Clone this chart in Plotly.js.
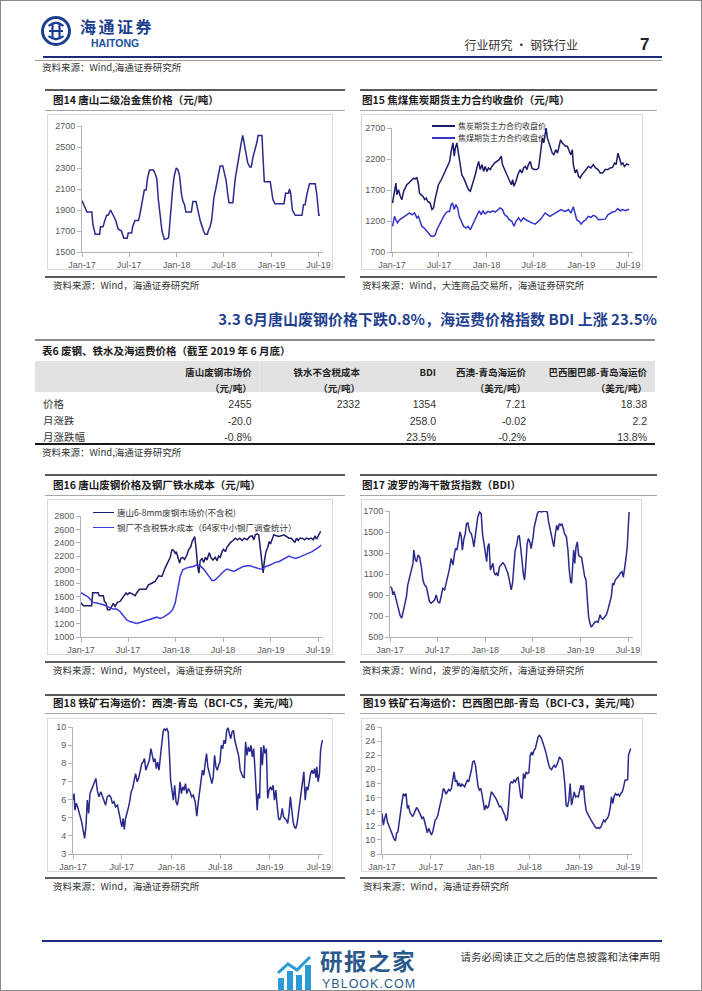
<!DOCTYPE html>
<html lang="zh-CN">
<head>
<meta charset="utf-8">
<title>行业研究 · 钢铁行业</title>
<script src="https://cdn.plot.ly/plotly-3.0.1.min.js"></script>
<style>
html,body{margin:0;padding:0;background:#fff;}
#page{position:relative;width:702px;height:991px;overflow:hidden;background:#fff;font-family:"Noto Sans CJK SC","Liberation Sans",sans-serif;color:#222;}
#pageframe{position:absolute;left:0;top:0;width:700px;height:989px;border:1px solid #8a8a8a;pointer-events:none;z-index:20;}
.t{position:absolute;white-space:nowrap;line-height:1;}
.ln{position:absolute;}
.frame{position:absolute;box-sizing:border-box;border:1px solid #d9d9d9;}
.plot{position:absolute;}
</style>
</head>
<body>
<div id="page">
  <div id="pageframe"></div>
  <svg style="position:absolute;left:40px;top:15px" width="32" height="32" viewBox="0 0 32 32">
    <circle cx="16" cy="16" r="13.5" fill="none" stroke="#1d3f8f" stroke-width="3"/>
    <path d="M8.5 11 Q16 4.5 23.5 11 M8.5 21 Q16 27.5 23.5 21 M9 16 H23 M12.5 9.5 V22.5 M19.5 9.5 V22.5" stroke="#1d3f8f" stroke-width="2.2" fill="none"/>
  </svg>
  <svg style="position:absolute;left:276px;top:954px" width="38" height="36" viewBox="0 0 38 36">
    <rect x="2" y="24" width="6" height="12" fill="#2b9ad6"/>
    <rect x="11" y="17" width="6" height="19" fill="#2b9ad6"/>
    <rect x="20" y="21" width="6" height="15" fill="#2b9ad6"/>
    <rect x="29" y="11" width="6" height="25" fill="#2b9ad6"/>
    <polyline points="2,19 12,10 21,16 34,3" stroke="#2b9ad6" stroke-width="3" fill="none"/>
  </svg>
</div>
<script>
// ---------------- DATA ----------------
// 图14 唐山二级冶金焦价格（元/吨）
const cokeTsDates = ['2017-01-01','2017-01-20','2017-02-08','2017-02-12','2017-02-21','2017-03-10','2017-03-13','2017-03-23','2017-03-30','2017-04-06',
'2017-04-12','2017-04-21','2017-05-01','2017-05-11','2017-05-20','2017-06-02','2017-06-11','2017-06-24','2017-06-28','2017-07-11',
'2017-07-15','2017-07-24','2017-08-06','2017-08-10','2017-08-15','2017-08-23','2017-08-29','2017-09-05','2017-09-10','2017-09-18',
'2017-10-03','2017-10-09','2017-10-16','2017-10-22','2017-10-29','2017-11-05','2017-11-14','2017-11-28','2017-12-01','2017-12-04',
'2017-12-09','2017-12-16','2017-12-22','2017-12-30','2018-01-06','2018-01-12','2018-01-19','2018-01-25','2018-01-31','2018-02-05',
'2018-02-26','2018-03-01','2018-03-04','2018-03-16','2018-03-18','2018-03-25','2018-04-01','2018-04-07','2018-04-14','2018-04-20',
'2018-04-29','2018-05-02','2018-05-09','2018-05-15','2018-05-19','2018-05-24','2018-05-31','2018-06-08','2018-06-17','2018-06-27',
'2018-07-03','2018-07-10','2018-07-16','2018-07-21','2018-08-05','2018-08-08','2018-08-14','2018-08-21','2018-08-27','2018-09-03',
'2018-09-07','2018-09-12','2018-09-20','2018-09-26','2018-10-01','2018-10-09','2018-10-15','2018-10-21','2018-10-27','2018-10-31',
'2018-11-06','2018-11-10','2018-11-25','2018-11-29','2018-12-04','2018-12-27','2019-01-01','2019-01-06','2019-01-14','2019-02-18',
'2019-02-24','2019-03-07','2019-03-11','2019-03-16','2019-03-22','2019-04-02','2019-04-28','2019-05-04','2019-05-10','2019-05-17',
'2019-05-27','2019-06-18','2019-06-24','2019-06-29','2019-07-02','2019-07-06'];
const cokeTsPrice = [1990,1880,1880,1760,1670,1670,1740,1740,1800,1850,
1850,1900,1850,1800,1720,1700,1630,1630,1680,1680,
1740,1800,1800,1830,1900,1990,2090,2090,2200,2280,
2280,2250,2200,2000,1850,1700,1620,1630,1650,1750,
1900,2100,2220,2300,2280,2220,2050,1980,1950,1880,
1880,1920,1980,1980,1950,1880,1800,1750,1700,1670,
1670,1700,1740,1800,1900,2020,2100,2220,2320,2320,
2250,2180,2050,1970,1970,2050,2200,2300,2400,2500,
2550,2610,2500,2400,2350,2310,2310,2400,2450,2500,
2550,2610,2610,2400,2170,2170,2060,2000,1960,1960,
2060,2060,2100,2050,1900,1850,1850,1950,1950,2050,
2150,2150,2050,1950,1850,1850];

// 图15 焦炭期货主力合约收盘价（元/吨）
const futCokeDates = ['2017-01-03','2017-01-11','2017-01-16','2017-01-20','2017-01-26','2017-02-02','2017-02-08','2017-02-15','2017-02-21','2017-02-27',
'2017-03-06','2017-03-12','2017-03-19','2017-03-25','2017-04-01','2017-04-07','2017-04-13','2017-04-17','2017-04-22','2017-04-30',
'2017-05-07','2017-05-13','2017-05-19','2017-05-28','2017-06-04','2017-06-10','2017-06-17','2017-06-23','2017-06-29','2017-07-10',
'2017-07-19','2017-07-28','2017-08-04','2017-08-11','2017-08-17','2017-08-24','2017-08-29','2017-09-02','2017-09-08','2017-09-15',
'2017-09-21','2017-09-27','2017-10-04','2017-10-10','2017-10-17','2017-10-23','2017-10-30','2017-11-05','2017-11-11','2017-11-18',
'2017-11-24','2017-12-01','2017-12-07','2017-12-14','2017-12-20','2017-12-26','2018-01-02','2018-01-08','2018-01-15','2018-01-21',
'2018-01-31','2018-02-09','2018-02-18','2018-02-26','2018-03-03','2018-03-11','2018-03-17','2018-03-24','2018-03-30','2018-04-06',
'2018-04-11','2018-04-16','2018-04-24','2018-05-01','2018-05-10','2018-05-17','2018-05-23','2018-05-30','2018-06-05','2018-06-11',
'2018-06-18','2018-06-24','2018-07-03','2018-07-13','2018-07-20','2018-07-24','2018-07-29','2018-08-04','2018-08-09','2018-08-14',
'2018-08-18','2018-08-23','2018-08-30','2018-09-05','2018-09-11','2018-09-17','2018-09-24','2018-10-01','2018-10-07','2018-10-13',
'2018-10-19','2018-10-26','2018-11-01','2018-11-08','2018-11-14','2018-11-21','2018-11-27','2018-12-01','2018-12-08','2018-12-14',
'2018-12-21','2018-12-27','2019-01-03','2019-01-09','2019-01-18','2019-01-28','2019-02-07','2019-02-16','2019-02-25','2019-03-06',
'2019-03-15','2019-03-24','2019-04-03','2019-04-13','2019-04-22','2019-05-01','2019-05-09','2019-05-15','2019-05-22','2019-05-28',
'2019-06-04','2019-06-10','2019-06-16','2019-06-25','2019-07-04'];
const futCokePrice = [1490,1730,1810,1625,1705,1600,1545,1680,1730,1785,
1810,1840,1875,1890,1880,1905,1785,1650,1625,1600,
1545,1570,1515,1490,1385,1410,1570,1680,1785,1865,
1945,2030,2110,2160,2325,2460,2245,2375,2460,2245,
2055,1945,1895,1840,1785,1705,1680,1760,1840,1945,
2055,2160,2030,2110,2000,2080,2000,2055,2030,2080,
2135,2160,2190,2245,2110,2030,1975,1920,1840,1785,
1865,1760,1840,1945,2030,1975,2055,2080,2030,2110,
2160,2055,2030,2030,2055,2190,2375,2540,2460,2590,
2700,2540,2460,2375,2295,2270,2350,2295,2405,2510,
2460,2430,2405,2405,2350,2270,2350,2110,1975,2030,
1920,1895,1945,1975,2030,2080,2055,2110,2055,2030,
1975,1975,2030,2030,2055,2065,2135,2110,2295,2190,
2110,2135,2080,2120,2100];

// 图15 焦煤期货主力合约收盘价（元/吨）
const futCoalDates = ['2017-01-03','2017-01-11','2017-01-16','2017-01-22','2017-01-30','2017-02-08','2017-02-18','2017-02-27','2017-03-10','2017-03-19',
'2017-03-29','2017-04-07','2017-04-13','2017-04-20','2017-04-26','2017-05-05','2017-05-15','2017-05-24','2017-06-01','2017-06-10',
'2017-06-17','2017-06-23','2017-06-29','2017-07-10','2017-07-19','2017-07-28','2017-08-04','2017-08-11','2017-08-17','2017-08-22',
'2017-08-29','2017-09-04','2017-09-11','2017-09-17','2017-09-25','2017-10-04','2017-10-13','2017-10-21','2017-10-30','2017-11-08',
'2017-11-15','2017-11-24','2017-12-03','2017-12-11','2017-12-17','2017-12-26','2018-01-06','2018-01-15','2018-01-24','2018-02-03',
'2018-02-13','2018-02-22','2018-03-03','2018-03-11','2018-03-20','2018-03-29','2018-04-08','2018-04-16','2018-04-24','2018-05-04',
'2018-05-13','2018-05-23','2018-06-01','2018-06-11','2018-06-24','2018-07-07','2018-07-17','2018-07-26','2018-08-05','2018-08-14',
'2018-08-24','2018-09-02','2018-09-11','2018-09-21','2018-10-04','2018-10-14','2018-10-23','2018-11-01','2018-11-12','2018-11-22',
'2018-12-01','2018-12-08','2018-12-14','2018-12-23','2018-12-31','2019-01-09','2019-01-18','2019-01-28','2019-02-07','2019-02-16',
'2019-02-25','2019-03-08','2019-03-21','2019-04-03','2019-04-13','2019-04-22','2019-05-01','2019-05-12','2019-05-21','2019-05-31',
'2019-06-09','2019-06-19','2019-06-29','2019-07-04'];
const futCoalPrice = [1115,1275,1220,1170,1220,1250,1275,1300,1330,1300,
1330,1250,1275,1170,1115,1085,1035,1005,955,955,
980,1060,1115,1195,1275,1330,1355,1355,1465,1490,
1385,1465,1410,1275,1195,1115,1085,1115,1060,1140,
1220,1300,1365,1300,1365,1315,1355,1340,1365,1345,
1385,1410,1385,1300,1275,1220,1195,1115,1195,1250,
1195,1250,1220,1195,1170,1150,1185,1220,1275,1330,
1300,1275,1300,1330,1355,1385,1365,1355,1385,1330,
1430,1330,1220,1195,1150,1195,1220,1275,1260,1290,
1275,1220,1220,1230,1300,1330,1345,1355,1400,1365,
1385,1365,1385,1380];

// 图16 唐山6-8mm废钢市场价(不含税)（元/吨）
const scrapDates = ['2017-01-01','2017-01-07','2017-01-10','2017-02-11','2017-02-15','2017-03-08','2017-03-12','2017-03-28','2017-04-01','2017-04-07',
'2017-04-13','2017-04-22','2017-04-29','2017-05-05','2017-05-12','2017-05-21','2017-05-31','2017-06-10','2017-06-23','2017-06-29',
'2017-07-06','2017-07-15','2017-07-28','2017-08-03','2017-08-13','2017-09-08','2017-09-17','2017-09-30','2017-10-13','2017-10-26',
'2017-11-08','2017-11-20','2017-12-03','2017-12-10','2017-12-16','2017-12-22','2017-12-29','2018-01-02','2018-01-07','2018-01-15',
'2018-01-20','2018-01-27','2018-02-03','2018-02-12','2018-02-18','2018-02-27','2018-03-04','2018-03-09','2018-03-14','2018-03-20',
'2018-03-25','2018-03-30','2018-04-04','2018-04-11','2018-04-17','2018-04-24','2018-04-30','2018-05-09','2018-05-15','2018-05-23',
'2018-06-01','2018-06-08','2018-06-14','2018-06-20','2018-06-27','2018-07-03','2018-07-10','2018-07-16','2018-07-23','2018-07-29',
'2018-08-08','2018-08-17','2018-08-26','2018-09-03','2018-09-12','2018-09-21','2018-10-01','2018-10-12','2018-10-21','2018-10-27',
'2018-11-02','2018-11-09','2018-11-15','2018-11-22','2018-11-28','2018-12-02','2018-12-07','2018-12-13','2018-12-20','2018-12-25',
'2018-12-30','2019-01-06','2019-01-12','2019-01-22','2019-01-31','2019-02-09','2019-02-19','2019-03-02','2019-03-11','2019-03-20',
'2019-03-28','2019-04-03','2019-04-09','2019-04-16','2019-04-22','2019-05-01','2019-05-10','2019-05-18','2019-05-27','2019-06-05',
'2019-06-13','2019-06-19','2019-06-25','2019-07-04','2019-07-11'];
const scrapPrice = [1510,1480,1465,1465,1660,1660,1615,1615,1530,1505,
1405,1405,1455,1500,1455,1515,1530,1580,1655,1630,
1660,1645,1615,1655,1710,1710,1775,1800,1825,1910,
1900,2025,2145,2185,2295,2295,2245,2270,2205,2100,
2170,2185,2155,2220,2295,2345,2420,2470,2495,2295,
2050,1950,2135,2170,2110,2185,2145,2255,2185,2145,
2185,2135,2205,2185,2270,2305,2270,2335,2370,2405,
2435,2470,2445,2470,2435,2470,2445,2495,2505,2445,
2520,2535,2520,2295,2100,1955,2135,2270,2335,2420,
2385,2470,2520,2505,2495,2505,2520,2495,2470,2470,
2435,2405,2470,2435,2470,2470,2445,2470,2455,2470,
2445,2505,2455,2520,2570];

// 图16 钢厂不含税铁水成本（64家中小钢厂调查统计）（元/吨）
const ironDates = ['2017-01-01','2017-01-16','2017-01-29','2017-02-07','2017-02-15','2017-03-02','2017-03-15','2017-03-28','2017-04-10','2017-04-22',
'2017-05-05','2017-05-18','2017-05-31','2017-06-13','2017-06-26','2017-07-08','2017-07-21','2017-08-03','2017-08-16','2017-08-29',
'2017-09-11','2017-09-24','2017-10-06','2017-10-19','2017-11-01','2017-11-14','2017-11-27','2017-12-10','2017-12-20','2017-12-29',
'2018-01-04','2018-01-11','2018-01-17','2018-01-27','2018-02-09','2018-02-25','2018-03-09','2018-03-22','2018-04-04','2018-04-17',
'2018-04-30','2018-05-10','2018-05-19','2018-05-28','2018-06-08','2018-06-20','2018-07-03','2018-07-16','2018-07-29','2018-08-11',
'2018-08-23','2018-09-05','2018-09-17','2018-10-01','2018-10-13','2018-10-27','2018-11-09','2018-11-22','2018-12-02','2018-12-11',
'2018-12-23','2019-01-06','2019-01-18','2019-01-31','2019-02-13','2019-02-26','2019-03-11','2019-03-24','2019-04-05','2019-04-18',
'2019-05-01','2019-05-13','2019-05-27','2019-06-08','2019-06-21','2019-07-04','2019-07-13'];
const ironCost = [1660,1630,1595,1555,1515,1505,1495,1480,1455,1430,
1415,1415,1380,1315,1255,1230,1215,1200,1215,1230,
1255,1265,1280,1295,1275,1295,1330,1365,1415,1505,
1630,1775,1900,2000,2025,2040,2050,2075,2060,2010,
1950,1890,1840,1840,1875,1925,1975,2010,1990,1975,
2000,2025,2050,2060,2060,2040,2020,2010,2010,2050,
2060,2085,2110,2120,2145,2170,2205,2185,2170,2185,
2205,2220,2245,2270,2305,2335,2370];

// 图17 波罗的海干散货指数（BDI）
const bdiDates = ['2017-01-03','2017-01-08','2017-01-12','2017-01-16','2017-01-21','2017-01-27','2017-02-03','2017-02-09','2017-02-15','2017-02-22',
'2017-02-28','2017-03-05','2017-03-10','2017-03-17','2017-03-23','2017-03-30','2017-04-02','2017-04-08','2017-04-13','2017-04-18',
'2017-04-24','2017-05-01','2017-05-07','2017-05-13','2017-05-20','2017-05-26','2017-06-01','2017-06-08','2017-06-14','2017-06-21',
'2017-06-27','2017-07-03','2017-07-10','2017-07-16','2017-07-22','2017-07-29','2017-08-04','2017-08-11','2017-08-17','2017-08-23',
'2017-08-30','2017-09-05','2017-09-09','2017-09-14','2017-09-20','2017-09-26','2017-10-01','2017-10-05','2017-10-10','2017-10-16',
'2017-10-21','2017-10-26','2017-11-02','2017-11-08','2017-11-14','2017-11-18','2017-11-23','2017-11-28','2017-12-03','2017-12-10',
'2017-12-16','2017-12-21','2017-12-26','2018-01-01','2018-01-06','2018-01-10','2018-01-15','2018-01-20','2018-01-25','2018-01-30',
'2018-02-03','2018-02-08','2018-02-13','2018-02-18','2018-02-24','2018-03-03','2018-03-09','2018-03-16','2018-03-22','2018-03-28',
'2018-04-04','2018-04-10','2018-04-15','2018-04-20','2018-04-25','2018-05-01','2018-05-06','2018-05-11','2018-05-16','2018-05-21',
'2018-05-26','2018-05-31','2018-06-05','2018-06-10','2018-06-15','2018-06-20','2018-06-25','2018-07-02','2018-07-07','2018-07-12',
'2018-07-19','2018-07-25','2018-08-03','2018-08-16','2018-08-26','2018-08-31','2018-09-05','2018-09-10','2018-09-15','2018-09-20',
'2018-09-25','2018-10-01','2018-10-06','2018-10-11','2018-10-16','2018-10-21','2018-10-26','2018-10-31','2018-11-07','2018-11-13',
'2018-11-18','2018-11-23','2018-11-27','2018-12-02','2018-12-05','2018-12-09','2018-12-14','2018-12-19','2018-12-24','2018-12-29',
'2019-01-04','2019-01-10','2019-01-16','2019-01-21','2019-01-26','2019-01-31','2019-02-05','2019-02-10','2019-02-17','2019-02-23',
'2019-03-02','2019-03-08','2019-03-16','2019-03-21','2019-03-27','2019-04-02','2019-04-09','2019-04-15','2019-04-22','2019-04-28',
'2019-05-03','2019-05-08','2019-05-13','2019-05-20','2019-05-26','2019-06-01','2019-06-08','2019-06-13','2019-06-18','2019-06-23',
'2019-06-28','2019-07-02','2019-07-05'];
const bdiValues = [980,964,901,933,892,822,759,702,680,759,
854,885,996,1075,1138,1201,1327,1233,1217,1280,
1264,1169,1043,996,980,901,838,822,838,854,
901,838,822,885,964,949,1012,1075,1154,1248,
1185,1296,1343,1327,1422,1501,1454,1327,1422,1485,
1580,1586,1501,1485,1422,1359,1454,1580,1643,1690,
1675,1485,1406,1280,1217,1359,1390,1138,1169,1201,
1122,1091,1107,1081,1169,1195,1207,1185,1154,1107,
1027,949,1012,1138,1327,1375,1454,1469,1375,1233,
1107,1043,1201,1390,1438,1406,1343,1438,1548,1612,
1675,1700,1690,1700,1690,1596,1533,1454,1390,1359,
1469,1564,1517,1580,1564,1580,1533,1485,1454,1327,
1138,1027,1012,1169,1327,1201,1359,1406,1280,1264,
1258,1169,1075,1043,885,696,633,595,617,639,
648,639,712,680,670,696,712,759,822,885,
1012,996,1043,1059,1081,1107,1122,1068,1138,1248,
1359,1517,1690];

// 图18 铁矿石海运价：西澳-青岛（BCI-C5，美元/吨）
const c5Dates = ['2017-01-01','2017-01-05','2017-01-08','2017-01-13','2017-01-18','2017-01-23','2017-01-28','2017-02-02','2017-02-07','2017-02-13',
'2017-02-18','2017-02-23','2017-02-28','2017-03-05','2017-03-10','2017-03-16','2017-03-22','2017-03-27','2017-04-01','2017-04-07',
'2017-04-14','2017-04-20','2017-04-26','2017-05-02','2017-05-08','2017-05-15','2017-05-21','2017-05-27','2017-06-02','2017-06-08',
'2017-06-15','2017-06-21','2017-06-26','2017-07-01','2017-07-06','2017-07-10','2017-07-15','2017-07-21','2017-07-26','2017-07-31',
'2017-08-05','2017-08-10','2017-08-16','2017-08-21','2017-08-27','2017-09-02','2017-09-08','2017-09-13','2017-09-18','2017-09-23',
'2017-09-28','2017-10-04','2017-10-11','2017-10-17','2017-10-22','2017-10-27','2017-11-01','2017-11-06','2017-11-11','2017-11-16',
'2017-11-21','2017-11-26','2017-12-01','2017-12-05','2017-12-10','2017-12-15','2017-12-20','2017-12-25','2017-12-29','2018-01-03',
'2018-01-08','2018-01-13','2018-01-18','2018-01-23','2018-01-28','2018-02-02','2018-02-07','2018-02-12','2018-02-17','2018-02-22',
'2018-02-27','2018-03-05','2018-03-11','2018-03-17','2018-03-23','2018-03-30','2018-04-05','2018-04-10','2018-04-15','2018-04-21',
'2018-04-26','2018-05-01','2018-05-06','2018-05-11','2018-05-16','2018-05-21','2018-05-26','2018-05-31','2018-06-05','2018-06-10',
'2018-06-15','2018-06-20','2018-06-25','2018-06-30','2018-07-05','2018-07-10','2018-07-15','2018-07-20','2018-07-25','2018-07-30',
'2018-08-04','2018-08-09','2018-08-14','2018-08-19','2018-08-24','2018-08-29','2018-09-03','2018-09-08','2018-09-13','2018-09-18',
'2018-09-23','2018-09-28','2018-10-03','2018-10-08','2018-10-13','2018-10-18','2018-10-23','2018-10-28','2018-11-02','2018-11-07',
'2018-11-12','2018-11-15','2018-11-19','2018-11-24','2018-11-29','2018-12-04','2018-12-09','2018-12-14','2018-12-19','2018-12-24',
'2018-12-29','2019-01-03','2019-01-08','2019-01-13','2019-01-18','2019-01-23','2019-01-28','2019-02-02','2019-02-06','2019-02-11',
'2019-02-16','2019-02-21','2019-02-26','2019-03-03','2019-03-08','2019-03-13','2019-03-18','2019-03-23','2019-03-28','2019-04-02',
'2019-04-07','2019-04-12','2019-04-17','2019-04-22','2019-04-27','2019-05-02','2019-05-07','2019-05-12','2019-05-17','2019-05-22',
'2019-05-27','2019-06-01','2019-06-06','2019-06-11','2019-06-16','2019-06-21','2019-06-24','2019-06-29','2019-07-04','2019-07-08',
'2019-07-12','2019-07-15'];
const c5Values = [5.97,6.33,5.42,5.79,5.60,5.24,5.05,4.78,4.32,3.86,
4.50,5.97,5.24,6.33,6.52,6.79,6.98,7.16,6.52,6.15,
6.43,6.15,5.97,5.69,6.15,6.24,6.15,5.79,5.88,5.60,
5.69,5.24,4.78,4.50,4.96,4.36,4.96,5.24,5.60,5.97,
6.43,6.61,7.16,7.43,6.98,7.21,7.62,7.98,8.08,8.26,
7.62,7.89,8.17,8.81,8.35,8.08,8.26,7.71,8.08,7.62,
8.35,9.27,9.73,9.91,9.82,9.91,9.73,8.35,7.07,6.52,
5.97,6.79,5.88,5.69,6.15,6.98,6.33,6.70,6.52,6.88,
6.33,6.61,6.43,6.15,6.24,5.88,5.09,5.79,6.52,7.07,
7.62,7.34,7.98,8.53,7.80,7.43,7.25,6.88,7.25,8.44,
7.80,7.62,7.89,8.08,8.99,8.81,9.27,9.08,9.82,9.96,
9.63,9.36,9.73,9.82,9.27,8.99,8.72,8.35,7.62,7.43,
7.25,7.21,9.18,8.44,8.90,8.63,8.99,8.35,8.81,7.62,
6.52,5.42,6.33,6.06,8.90,7.89,8.99,8.53,8.81,6.06,
6.52,6.70,6.52,6.79,5.97,6.52,5.69,4.96,4.87,5.05,
5.51,5.05,4.96,4.87,4.69,5.24,6.15,5.24,4.78,4.50,
4.41,4.69,5.24,5.69,6.15,6.70,7.53,5.97,6.70,6.52,
7.07,7.43,7.62,7.43,7.71,7.21,7.80,6.98,7.43,8.72,
9.08,9.27];

// 图19 铁矿石海运价：巴西图巴郎-青岛（BCI-C3，美元/吨）
const c3Dates = ['2017-01-01','2017-01-06','2017-01-11','2017-01-16','2017-01-21','2017-01-26','2017-01-31','2017-02-05','2017-02-10','2017-02-15',
'2017-02-20','2017-02-24','2017-03-01','2017-03-06','2017-03-11','2017-03-16','2017-03-21','2017-03-26','2017-03-31','2017-04-05',
'2017-04-09','2017-04-14','2017-04-19','2017-04-24','2017-04-29','2017-05-04','2017-05-09','2017-05-14','2017-05-19','2017-05-24',
'2017-05-29','2017-06-03','2017-06-08','2017-06-13','2017-06-18','2017-06-23','2017-06-28','2017-07-03','2017-07-08','2017-07-12',
'2017-07-17','2017-07-22','2017-07-27','2017-08-01','2017-08-06','2017-08-11','2017-08-16','2017-08-21','2017-08-26','2017-08-31',
'2017-09-05','2017-09-10','2017-09-15','2017-09-20','2017-09-25','2017-09-30','2017-10-05','2017-10-09','2017-10-14','2017-10-19',
'2017-10-24','2017-10-29','2017-11-03','2017-11-08','2017-11-13','2017-11-18','2017-11-23','2017-11-28','2017-12-03','2017-12-08',
'2017-12-13','2017-12-18','2017-12-23','2017-12-28','2018-01-02','2018-01-07','2018-01-11','2018-01-16','2018-01-21','2018-01-26',
'2018-01-31','2018-02-05','2018-02-10','2018-02-15','2018-02-20','2018-02-25','2018-03-02','2018-03-07','2018-03-12','2018-03-17',
'2018-03-22','2018-03-27','2018-04-01','2018-04-06','2018-04-10','2018-04-15','2018-04-20','2018-04-25','2018-04-30','2018-05-05',
'2018-05-10','2018-05-15','2018-05-20','2018-05-25','2018-05-30','2018-06-04','2018-06-09','2018-06-14','2018-06-19','2018-06-24',
'2018-06-29','2018-07-04','2018-07-09','2018-07-13','2018-07-18','2018-07-23','2018-07-28','2018-08-02','2018-08-07','2018-08-12',
'2018-08-17','2018-08-22','2018-08-27','2018-09-01','2018-09-06','2018-09-11','2018-09-16','2018-09-21','2018-09-26','2018-10-01',
'2018-10-06','2018-10-10','2018-10-15','2018-10-20','2018-10-25','2018-10-30','2018-11-04','2018-11-09','2018-11-14','2018-11-19',
'2018-11-24','2018-11-29','2018-12-04','2018-12-09','2018-12-14','2018-12-19','2018-12-24','2018-12-29','2019-01-03','2019-01-08',
'2019-01-12','2019-01-17','2019-01-22','2019-01-27','2019-02-01','2019-02-06','2019-02-11','2019-02-16','2019-02-21','2019-02-26',
'2019-03-03','2019-03-08','2019-03-13','2019-03-18','2019-03-23','2019-03-28','2019-04-02','2019-04-07','2019-04-11','2019-04-16',
'2019-04-21','2019-04-26','2019-05-01','2019-05-06','2019-05-11','2019-05-16','2019-05-21','2019-05-26','2019-05-31','2019-06-05',
'2019-06-10','2019-06-15','2019-06-20','2019-06-25','2019-06-30','2019-07-03','2019-07-07','2019-07-11'];
const c3Values = [13.75,12.10,13.04,13.75,12.57,12.10,11.63,10.92,10.45,10.07,
9.88,10.92,11.16,12.33,13.98,15.40,16.57,16.20,16.57,14.45,
14.93,13.98,13.51,13.28,13.65,14.22,14.60,14.31,13.98,13.51,
13.04,13.28,12.57,11.86,11.01,11.63,11.16,10.68,11.16,12.10,
12.80,13.04,13.51,14.45,15.16,16.10,17.28,17.05,16.48,16.81,
17.14,16.95,17.28,18.46,19.64,18.22,18.46,17.61,18.08,17.52,
17.89,17.75,17.52,17.99,18.46,18.22,18.93,19.87,21.05,21.19,
20.58,18.70,17.52,17.05,17.28,16.34,15.16,14.22,14.93,14.45,
14.78,15.87,16.81,16.57,16.34,16.00,15.63,15.16,14.69,14.78,
14.31,14.12,13.51,12.71,13.04,14.93,17.89,18.22,18.08,18.46,
18.22,18.70,18.84,17.52,16.10,15.87,19.40,18.70,19.64,19.40,
19.50,21.99,22.47,21.99,22.70,22.94,23.64,24.59,24.82,24.59,
24.11,23.64,22.94,22.23,21.29,20.58,20.11,19.97,20.35,20.58,
20.25,20.58,21.05,21.76,21.52,21.29,19.87,17.99,14.93,14.69,
15.63,17.99,14.93,16.10,16.81,16.10,16.20,16.10,17.05,17.75,
17.05,17.75,15.63,14.22,13.75,13.28,13.04,12.71,12.33,12.10,
11.77,11.63,11.77,11.63,11.86,12.33,12.80,12.57,12.90,13.04,
13.51,14.45,16.10,15.16,16.20,16.57,16.34,16.48,16.20,16.57,
16.81,17.52,18.46,18.46,18.56,21.99,22.47,22.94];

// 表6 废钢、铁水及海运费价格（截至2019年6月底）
const tableHeader = [
  ['', ''],
  ['唐山废钢市场价', '（元/吨）'],
  ['铁水不含税成本', '（元/吨）'],
  ['BDI', ''],
  ['西澳-青岛海运价', '（美元/吨）'],
  ['巴西图巴郎-青岛海运价', '（美元/吨）']
];
const tableRowLabels = ['价格', '月涨跌', '月涨跌幅'];
const scrapCol = ['2455', '-20.0', '-0.8%'];
const ironCol = ['2332', '', ''];
const bdiCol = ['1354', '258.0', '23.5%'];
const c5Col = ['7.21', '-0.02', '-0.2%'];
const c3Col = ['18.38', '2.2', '13.8%'];

// ---------------- PAGE ----------------
const page = document.getElementById('page');
function text(str, o) {
  const d = document.createElement('div');
  d.className = 't';
  d.textContent = str;
  d.style.fontSize = o.fs + 'px';
  d.style.top = (o.cy - o.fs / 2) + 'px';
  if (o.right !== undefined) d.style.right = (702 - o.right) + 'px';
  else d.style.left = o.left + 'px';
  if (o.bold) d.style.fontWeight = 'bold';
  d.style.color = o.color || '#222';
  if (o.family) d.style.fontFamily = o.family;
  if (o.ls) d.style.letterSpacing = o.ls + 'px';
  page.appendChild(d);
  return d;
}
function rect(x1, x2, y, h, color) {
  const d = document.createElement('div');
  d.className = 'ln';
  d.style.left = x1 + 'px';
  d.style.width = (x2 - x1) + 'px';
  d.style.top = (y - h / 2) + 'px';
  d.style.height = h + 'px';
  d.style.background = color;
  page.appendChild(d);
  return d;
}

const LAT = '"Liberation Sans", Arial, sans-serif';
const CJK = '"Noto Sans CJK SC", sans-serif';

// header
text('海通证券', {left: 80, cy: 26, fs: 16, bold: true, color: '#1d3f8f', ls: 2.5});
text('HAITONG', {left: 91, cy: 43.5, fs: 10.5, bold: true, color: '#1d4f9f', family: LAT});
text('行业研究 · 钢铁行业', {right: 578, cy: 45, fs: 12, color: '#333'});
text('7', {left: 640, cy: 44, fs: 17, bold: true, color: '#222', family: LAT});
rect(43, 662, 57, 2, '#1f2a7a');
rect(35, 662, 60.5, 1, '#9a9a9a');
text('资料来源：Wind,海通证券研究所', {left: 42, cy: 67.5, fs: 9.5, color: '#333'});

// section heading + table decorations
text('3.3 6月唐山废钢价格下跌0.8%，海运费价格指数 BDI 上涨 23.5%', {right: 657, cy: 318, fs: 15, bold: true, color: '#1f3f8f'});
rect(35, 655, 340, 1.5, '#8c8c8c');
text('表6 废钢、铁水及海运费价格（截至 2019 年 6 月底）', {left: 42, cy: 351.7, fs: 10.5, bold: true, color: '#1a1a1a'});
rect(35, 655, 444, 2, '#1a1a1a');
text('资料来源：Wind,海通证券研究所', {left: 42, cy: 453, fs: 9.5, color: '#333'});

// panel decorations
const panels = [
  {x1: 45, x2: 345, tx: 53, top: 90, tcy: 100, under: 110, bottom: 276.7, scy: 285.7,
   title: '图14 唐山二级冶金焦价格（元/吨）', src: '资料来源：Wind，海通证券研究所'},
  {x1: 360, x2: 657, tx: 362, top: 90, tcy: 100, under: 110, bottom: 276.7, scy: 285.7,
   title: '图15 焦煤焦炭期货主力合约收盘价（元/吨）', src: '资料来源：Wind，大连商品交易所，海通证券研究所'},
  {x1: 45, x2: 345, tx: 53, top: 475, tcy: 485, under: 495, bottom: 661.7, scy: 670.7,
   title: '图16 唐山废钢价格及钢厂铁水成本（元/吨）', src: '资料来源：Wind，Mysteel，海通证券研究所'},
  {x1: 360, x2: 657, tx: 362, top: 475, tcy: 485, under: 495, bottom: 661.7, scy: 670.7,
   title: '图17 波罗的海干散货指数（BDI）', src: '资料来源：Wind，波罗的海航交所，海通证券研究所'},
  {x1: 45, x2: 345, tx: 53, top: 695, tcy: 703.3, under: 713.3, bottom: 878.3, scy: 886.7,
   title: '图18 铁矿石海运价：西澳-青岛（BCI-C5，美元/吨）', src: '资料来源：Wind，海通证券研究所'},
  {x1: 360, x2: 657, tx: 363, top: 695, tcy: 703.3, under: 713.3, bottom: 878.3, scy: 886.7,
   title: '图19 铁矿石海运价：巴西图巴郎-青岛（BCI-C3，美元/吨）', src: '资料来源：Wind，海通证券研究所'}
];
panels.forEach(p => {
  rect(p.x1, p.x2, p.top, 2, '#5a5a5a');
  text(p.title, {left: p.tx, cy: p.tcy, fs: 10.5, bold: true, color: '#1a1a1a'});
  rect(p.x1, p.x2, p.under, 1, '#a6a6a6');
  rect(p.x1, p.x2, p.bottom, 2, '#5a5a5a');
  text(p.src, {left: p.tx, cy: p.scy, fs: 9.5, color: '#333'});
});

// footer
rect(42, 662, 941, 2, '#1f2a7a');
text('请务必阅读正文之后的信息披露和法律声明', {right: 660, cy: 957, fs: 10.5, color: '#333'});
text('研报之家', {left: 320, cy: 960.5, fs: 22.5, bold: true, color: '#2a5a8c', ls: 1.5});
text('YBLOOK.COM', {left: 322, cy: 984, fs: 12.5, color: '#2a5a8c', family: LAT, ls: 1});

// ---------------- CHARTS ----------------
const NAVY = '#2a2a8c';
const charts = [
  {L: 47, T: 114, W: 286, H: 156, m: {l: 34.7, r: 10.3, t: 11.7, b: 17.7}, xEnd: '2019-07-18', yr: [1500, 2700], dt: 200,
   series: [{x: cokeTsDates, y: cokeTsPrice, name: '唐山二级冶金焦价格', color: NAVY}]},
  {L: 361, T: 114, W: 282, H: 156, m: {l: 30.7, r: 10, t: 14.3, b: 17.7}, xEnd: '2019-07-19', yr: [700, 2700], dt: 500,
   series: [{x: futCokeDates, y: futCokePrice, name: '焦炭期货主力合约收盘价', color: '#1c1c6b'},
            {x: futCoalDates, y: futCoalPrice, name: '焦煤期货主力合约收盘价', color: '#3434cc'}]},
  {L: 47, T: 499, W: 286, H: 156, m: {l: 34, r: 10.3, t: 17, b: 17.7}, xEnd: '2019-07-20', yr: [1000, 2800], dt: 200,
   series: [{x: scrapDates, y: scrapPrice, name: '唐山6-8mm废钢市场价(不含税)', color: '#1c1c6b'},
            {x: ironDates, y: ironCost, name: '钢厂不含税铁水成本（64家中小钢厂调查统计）', color: '#3a3ad8'}]},
  {L: 361, T: 499, W: 281, H: 156, m: {l: 29.3, r: 8.7, t: 11.7, b: 17.7}, xEnd: '2019-07-20', yr: [500, 1700], dt: 200,
   series: [{x: bdiDates, y: bdiValues, name: 'BDI', color: NAVY}]},
  {L: 47, T: 718, W: 286, H: 154, m: {l: 26.3, r: 10.3, t: 8.7, b: 18}, xEnd: '2019-07-17', yr: [3, 10], dt: 1,
   series: [{x: c5Dates, y: c5Values, name: 'BCI-C5', color: NAVY}]},
  {L: 361, T: 718, W: 282, H: 154, m: {l: 20.7, r: 11.3, t: 8.7, b: 18}, xEnd: '2019-07-16', yr: [8, 26], dt: 2,
   series: [{x: c3Dates, y: c3Values, name: 'BCI-C3', color: NAVY}]}
];

function box(cls, L, T, W, H) {
  const d = document.createElement('div');
  d.className = cls;
  d.style.left = L + 'px'; d.style.top = T + 'px';
  d.style.width = W + 'px'; d.style.height = H + 'px';
  page.appendChild(d);
  return d;
}

const axisCommon = {
  showgrid: false, zeroline: false, showline: true, linecolor: '#b3b3b3', linewidth: 1,
  ticks: 'outside', ticklen: 4, tickwidth: 1, tickcolor: '#b3b3b3',
  tickfont: {family: LAT, size: 9, color: '#595959'}, fixedrange: true
};

charts.forEach(c => {
  box('frame', c.L, c.T, c.W, c.H);
  const div = box('plot', c.L, c.T, c.W, c.H);
  const traces = c.series.map(s => ({
    type: 'scatter', mode: 'lines', x: s.x, y: s.y, name: s.name,
    line: {color: s.color, width: 1.5}, hoverinfo: 'skip'
  }));
  const layout = {
    width: c.W, height: c.H,
    margin: Object.assign({pad: 0}, c.m),
    paper_bgcolor: 'rgba(0,0,0,0)', plot_bgcolor: 'rgba(0,0,0,0)',
    showlegend: false,
    font: {family: LAT, size: 9, color: '#595959'},
    xaxis: Object.assign({}, axisCommon, {type: 'date', range: ['2017-01-01', c.xEnd], tick0: '2017-01-01', dtick: 'M6', tickformat: '%b-%y'}),
    yaxis: Object.assign({}, axisCommon, {range: c.yr, tick0: c.yr[0], dtick: c.dt})
  };
  Plotly.newPlot(div, traces, layout, {staticPlot: true, displayModeBar: false});
});

// legends (drawn above the plots)
function legendItem(x1, x2, y, color, label, fs) {
  rect(x1, x2, y, 1.6, color);
  text(label, {left: x2 + 3, cy: y, fs: fs, color: '#333'});
}
legendItem(432, 455, 126.2, '#1c1c6b', '焦炭期货主力合约收盘价', 8);
legendItem(432, 455, 137.9, '#3434cc', '焦煤期货主力合约收盘价', 8);
legendItem(93, 114, 512.3, '#1c1c6b', '唐山6-8mm废钢市场价(不含税)', 8.5);
legendItem(93, 114, 527.3, '#3a3ad8', '钢厂不含税铁水成本（64家中小钢厂调查统计）', 8.5);

// table (two header rows, three data rows)
const tdiv = box('plot', 35, 360.7, 620, 82);
Plotly.newPlot(tdiv, [{
  type: 'table',
  columnwidth: [141, 83.7, 108.3, 76, 90, 121],
  header: {
    values: tableHeader,
    align: ['left', 'right', 'right', 'right', 'right', 'right'],
    height: 15.5,
    fill: {color: '#e2e2e2'},
    line: {width: 0, color: 'rgba(0,0,0,0)'},
    font: {family: CJK, size: 9.5, color: '#222', weight: 'bold'}
  },
  cells: {
    values: [tableRowLabels, scrapCol, ironCol, bdiCol, c5Col, c3Col],
    align: ['left', 'right', 'right', 'right', 'right', 'right'],
    height: 16.7,
    fill: {color: '#ffffff'},
    line: {width: 0, color: 'rgba(0,0,0,0)'},
    font: {family: [CJK, LAT, LAT, LAT, LAT, LAT], size: 10.5, color: '#333'}
  }
}], {width: 620, height: 82, margin: {l: 0, r: 0, t: 0, b: 0}, paper_bgcolor: 'rgba(0,0,0,0)'},
{staticPlot: true, displayModeBar: false});
</script>
</body>
</html>
